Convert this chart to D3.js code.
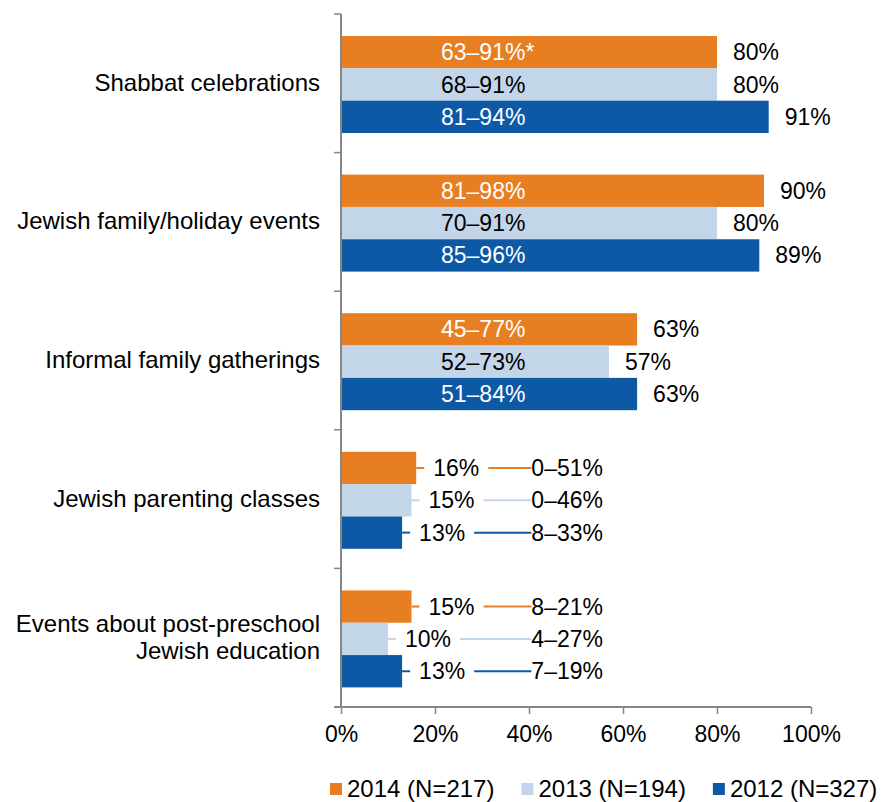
<!DOCTYPE html>
<html>
<head>
<meta charset="utf-8">
<script src="https://cdn.jsdelivr.net/npm/d3@7"></script>
<style>
  body { margin: 0; background: #fff; }
  text { font-family: "Liberation Sans", Arial, sans-serif; fill: #000; }
</style>
</head>
<body>
<div id="chart"></div>
<script>
// chart data
var categories = ["Shabbat celebrations", "Jewish family/holiday events", "Informal family gatherings",
                  "Jewish parenting classes", "Events about post-preschool\nJewish education"];
var seriesNames = ["2014 (N=217)", "2013 (N=194)", "2012 (N=327)"];
var seriesColors = ["#E87E22", "#C3D5E9", "#0D59A5"];
var values2014 = [80, 90, 63, 16, 15];
var values2013 = [80, 80, 57, 15, 10];
var values2012 = [91, 89, 63, 13, 13];
var ranges2014 = ["63–91%*", "81–98%", "45–77%", "0–51%", "8–21%"];
var ranges2013 = ["68–91%", "70–91%", "52–73%", "0–46%", "4–27%"];
var ranges2012 = ["81–94%", "85–96%", "51–84%", "8–33%", "7–19%"];
var xTicks = [0, 20, 40, 60, 80, 100];

function init()
{
  var width = 891, height = 802;
  var axisColor = "#868686";

  var svg = d3.select("#chart").append("svg")
    .attr("width", width)
    .attr("height", height);

  var values = [values2014, values2013, values2012];
  var ranges = [ranges2014, ranges2013, ranges2012];

  var xScale = d3.scaleLinear()
    .domain([0, 100])
    .range([341, 811]);

  // one slot per category, bars sit inside it
  var slot = d3.scaleBand()
    .domain(categories)
    .range([14, 707])
    .padding(0);

  var inner = d3.scaleBand()
    .domain(seriesNames)
    .range([22, 22 + 97]);

  var rows = [];
  categories.forEach(function(c, i) {
    seriesNames.forEach(function(s, j) {
      rows.push({cat: c, ci: i, series: s, si: j, value: values[j][i], range: ranges[j][i]});
    });
  });

  // bars
  svg.selectAll(".bar")
    .data(rows)
    .enter()
    .append("rect")
      .attr("class", "bar")
      .attr("x", xScale(0))
      .attr("y", function(d) {return slot(d.cat) + inner(d.series);})
      .attr("width", function(d) {return xScale(d.value) - xScale(0);})
      .attr("height", inner.bandwidth())
      .style("fill", function(d) {return seriesColors[d.si];});

  // y axis line + ticks between categories
  svg.append("line")
    .attr("x1", xScale(0)).attr("x2", xScale(0))
    .attr("y1", slot.range()[0]).attr("y2", slot.range()[1])
    .style("stroke", axisColor).style("stroke-width", 2);

  var boundaries = categories.map(function(c) {return slot(c);}).concat([slot.range()[1]]);
  svg.selectAll(".ytick")
    .data(boundaries)
    .enter()
    .append("line")
      .attr("x1", xScale(0) - 7).attr("x2", xScale(0))
      .attr("y1", function(d) {return d;}).attr("y2", function(d) {return d;})
      .style("stroke", axisColor).style("stroke-width", 1.5);

  // x axis
  var xAxis = d3.axisBottom(xScale)
    .tickValues(xTicks)
    .tickSize(7)
    .tickPadding(12)
    .tickFormat(function(d) {return d + "%";});

  var gx = svg.append("g")
    .attr("transform", "translate(0," + slot.range()[1] + ")")
    .call(xAxis);
  gx.select(".domain").attr("d", "M" + (xScale(0) - 7) + ",0H" + xScale(100))
    .style("stroke", axisColor).style("stroke-width", 2);
  gx.selectAll(".tick line").style("stroke", axisColor).style("stroke-width", 1.5);
  gx.selectAll(".tick text")
    .style("font-family", "'Liberation Sans', Arial, sans-serif")
    .style("font-size", "23px")
    .style("fill", "#000");

  // category labels
  svg.selectAll(".cat")
    .data(categories)
    .enter()
    .append("text")
      .attr("class", "cat")
      .attr("text-anchor", "end")
      .style("font-size", "24px")
      .each(function(d) {
        var lines = d.split("\n");
        var cy = slot(d) + slot.bandwidth() / 2;
        var lh = 27;
        var el = d3.select(this);
        lines.forEach(function(l, k) {
          el.append("tspan")
            .attr("x", 320)
            .attr("y", cy - 1 + (k - (lines.length - 1) / 2) * lh)
            .attr("dy", "0.35em")
            .text(l);
        });
      });

  // labels
  rows.forEach(function(d) {
    var yc = slot(d.cat) + inner(d.series) + inner.bandwidth() / 2;
    var barEnd = xScale(d.value);
    var col = seriesColors[d.si];

    if (d.value > 40) {
      // range inside the bar, value after it
      svg.append("text")
        .attr("x", xScale(0) + 100)
        .attr("y", yc)
        .attr("dy", "0.35em")
        .style("font-size", "23px")
        .style("fill", d.si == 1 ? "#000" : "#fff")
        .text(d.range);

      svg.append("text")
        .attr("x", barEnd + 16)
        .attr("y", yc)
        .attr("dy", "0.35em")
        .style("font-size", "23px")
        .text(d.value + "%");
    } else {
      // small bars: value and range out to the right with leader lines
      var vx = barEnd + 17;
      var rx = xScale(40.5);
      var vt = svg.append("text")
        .attr("x", vx)
        .attr("y", yc)
        .attr("dy", "0.35em")
        .style("font-size", "23px")
        .text(d.value + "%");
      var vw = vt.node().getComputedTextLength();

      svg.append("line")
        .attr("x1", barEnd).attr("x2", vx - 9)
        .attr("y1", yc).attr("y2", yc)
        .style("stroke", col).style("stroke-width", 2);

      svg.append("line")
        .attr("x1", vx + vw + 9).attr("x2", rx)
        .attr("y1", yc).attr("y2", yc)
        .style("stroke", col).style("stroke-width", 2);

      svg.append("text")
        .attr("x", rx)
        .attr("y", yc)
        .attr("dy", "0.35em")
        .style("font-size", "23px")
        .text(d.range);
    }
  });

  // legend
  var legend = svg.append("g")
    .attr("class", "legend")
    .attr("transform", "translate(330, 789)");

  var lx = 0;
  seriesNames.forEach(function(s, j) {
    legend.append("rect")
      .attr("x", lx)
      .attr("y", -6)
      .attr("width", 12)
      .attr("height", 12)
      .style("fill", seriesColors[j]);
    var t = legend.append("text")
      .attr("x", lx + 17)
      .attr("y", 0)
      .attr("dy", "0.35em")
      .style("font-size", "24px")
      .text(s);
    lx += 17 + t.node().getComputedTextLength() + 27;
  });
}

window.onload = init;
</script>
</body>
</html>
